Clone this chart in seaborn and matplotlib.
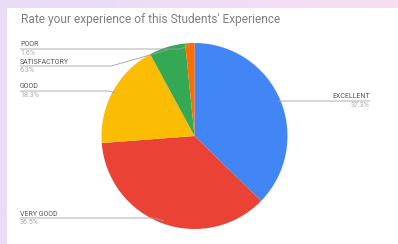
import numpy as np
import pandas as pd
import seaborn as sns
import matplotlib
matplotlib.use("Agg")
import matplotlib.pyplot as plt

# data
categories = ["EXCELLENT", "VERY GOOD", "GOOD", "SATISFACTORY", "POOR"]
shares = [37.3, 36.5, 18.3, 6.3, 1.6]
colors = ["#4285F4", "#EA4335", "#FBBC04", "#34A853", "#FF6D01"]
title = "Rate your experience of this Students' Experience"

df = pd.DataFrame({"category": categories, "share": shares})

sns.set_theme(style="white")
plt.rcParams["font.family"] = ["Roboto", "DejaVu Sans"]

W, H = 398, 244
fig = plt.figure(figsize=(W / 100, H / 100), dpi=100)

# background gradient + white card
bg = fig.add_axes([0, 0, 1, 1])
grad = np.linspace(0, 1, 256).reshape(1, -1)
cmap = matplotlib.colors.LinearSegmentedColormap.from_list("bg", ["#E8DCF7", "#F6DFF4"])
bg.imshow(grad, aspect="auto", cmap=cmap, extent=[0, 1, 0, 1])
bg.add_patch(plt.Rectangle((7 / W, 0), 1 - 7 / W, 1 - 8 / H, color="white", lw=0))
bg.set_xlim(0, 1)
bg.set_ylim(0, 1)
bg.axis("off")

fig.text(21 / W, 1 - 20 / H, title, fontsize=8.6, color="#808080", va="center", ha="left")

# pie
cx, cy, r = 194.5, 136, 93
ax = fig.add_axes([(cx - r) / W, (H - cy - r) / H, 2 * r / W, 2 * r / H])
ax.pie(df["share"], colors=colors, startangle=90, counterclock=False,
       wedgeprops=dict(linewidth=0))
ax.set_xlim(-1, 1)
ax.set_ylim(-1, 1)
ax.axis("off")

# labels with leader lines (pixel layout, anchor from slice mid-angle)
label_pos = {
    "EXCELLENT": (370, 101, "right"),
    "VERY GOOD": (20, 218, "left"),
    "GOOD": (20, 91, "left"),
    "SATISFACTORY": (20, 66, "left"),
    "POOR": (20, 49, "left"),
}

def fx(px):
    return px / W

def fy(py):
    return 1 - py / H

cum = np.cumsum([0] + shares)
for i, cat in enumerate(categories):
    mid = np.deg2rad((cum[i] + cum[i + 1]) / 2 * 3.6)
    px = cx + r * 0.97 * np.sin(mid)
    py = cy - r * 0.97 * np.cos(mid)
    lx, ly, side = label_pos[cat]
    if side == "left":
        ex = px - 3.5 * abs(py - ly)
        xs, ys = [lx, ex, px], [ly, ly, py]
    else:
        ex = px + 3.5 * abs(py - ly)
        xs, ys = [px, ex, lx], [py, ly, ly]
    fig.add_artist(plt.Line2D([fx(v) for v in xs], [fy(v) for v in ys],
                              color="#A0A0A0", lw=0.6, transform=fig.transFigure))
    fig.text(fx(lx), fy(ly - 4), cat, fontsize=5.0, color="#555555", ha=side,
             va="center")
    fig.text(fx(lx), fy(ly + 4.5), f"{shares[i]:.1f}%", fontsize=5.0, color="#A8A8A8",
             ha=side, va="center")

fig.savefig("out.png", dpi=100)
